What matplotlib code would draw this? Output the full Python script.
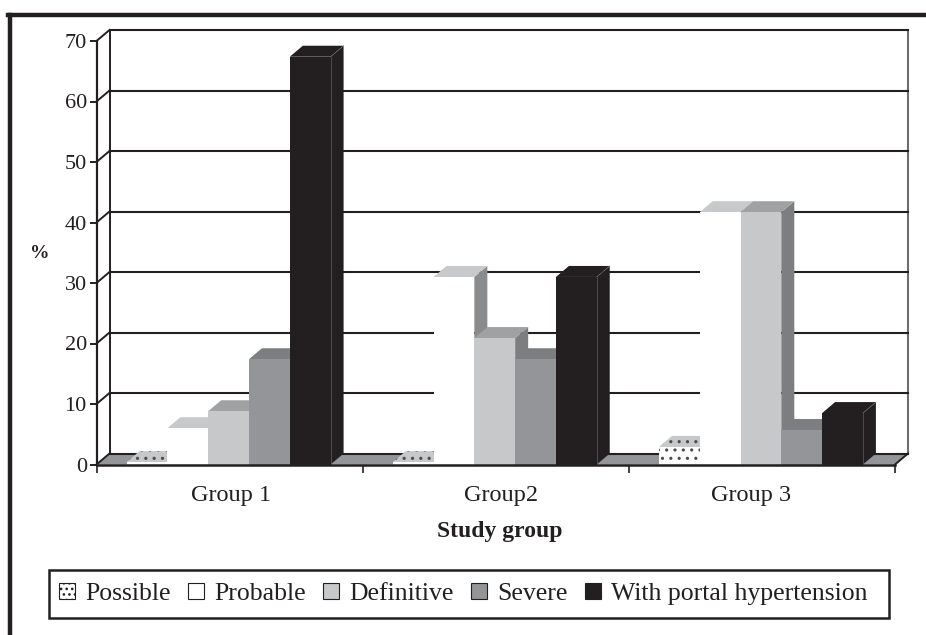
import matplotlib
matplotlib.use('Agg')
import numpy as np
from matplotlib import pyplot as plt
from matplotlib.patches import Patch, Polygon, Rectangle

plt.rcParams['font.family'] = ['Liberation Serif', 'DejaVu Serif']
plt.rcParams['hatch.linewidth'] = 1.1

groups = ['Group 1', 'Group2', 'Group 3']
series = ['Possible', 'Probable', 'Definitive', 'Severe', 'With portal hypertension']
possible = [0.4, 0.4, 2.9]
probable = [6.0, 31.0, 41.7]
definitive = [8.8, 20.9, 41.7]
severe = [17.4, 17.4, 5.7]
portal = [67.4, 31.0, 8.5]
values = [possible, probable, definitive, severe, portal]
yticks = [0, 10, 20, 30, 40, 50, 60, 70]
label_pos = [0.505, 1.52, 2.46]

# front, top, side colours of each series
front_cols = ['white', 'white', '#c7c8ca', '#939598', '#231f20']
top_cols = ['#c7c8ca', '#c8c9cb', '#a0a1a3', '#7d7e80', '#231f20']
side_cols = ['#c7c8ca', '#8a8b8d', '#7d7e80', '#66676a', '#231f20']

W, H = 926, 635
fig = plt.figure(figsize=(W/100, H/100), dpi=100)
L, R, T, B = 96.5, 895, 41, 464.5
ax = fig.add_axes([L/W, 1-B/H, (R-L)/W, (B-T)/H])
ax.set_xlim(0, 3)
ax.set_ylim(0, 70)
ax.patch.set_alpha(0)

# depth of the fake 3d in data units
dx = 13/(R-L)*3
dy = 11/(B-T)*70
bar_w = 40.8/(R-L)*3
nudge = 1.0/(R-L)*3


def poly(pts, color, hatch=None, z=2):
    p = Polygon(pts, closed=True, facecolor=color, edgecolor='none', lw=0, zorder=z, clip_on=False)
    if hatch:
        p.set_hatch(hatch)
        p.set_edgecolor('#4d4d4f')
    ax.add_patch(p)


# floor
poly([(0, 0), (3, 0), (3+dx, dy), (dx, dy)], '#939598', z=1.5)

# back wall and grid
ax.plot([dx, dx], [dy, 70+dy], color='#231f20', lw=1.4, clip_on=False, zorder=1)
ax.plot([3+dx, 3+dx], [dy, 70+dy], color='#6d6e70', lw=1.5, clip_on=False, zorder=1)
ax.plot([3, 3+dx], [0, dy], color='#231f20', lw=1.4, clip_on=False, zorder=1.6)
for v in yticks:
    ax.plot([dx, 3+dx], [v+dy, v+dy], color='#231f20', lw=1.5, clip_on=False, zorder=1.6 if v == 0 else 1)
    ax.plot([0, dx], [v, v+dy], color='#231f20', lw=1.4, clip_on=False, zorder=1.6)

# bars, drawn left to right so the later ones cover the side faces
for g in range(len(groups)):
    x0 = g + 0.5 - 2.5*bar_w - nudge
    for s in range(len(series)):
        x = x0 + s*bar_w
        v = values[s][g]
        hatch = '..' if s == 0 else None
        poly([(x+bar_w, 0), (x+bar_w+dx, dy), (x+bar_w+dx, v+dy), (x+bar_w, v)], side_cols[s], hatch)
        poly([(x, v), (x+bar_w, v), (x+bar_w+dx, v+dy), (x+dx, v+dy)], top_cols[s], hatch)
        poly([(x, 0), (x+bar_w, 0), (x+bar_w, v), (x, v)], front_cols[s], hatch)
        if s == 4:
            # thin light edge on the dark bars
            ax.plot([x+bar_w, x+bar_w], [0, v], color='#6d6e70', lw=0.4, zorder=2.1, clip_on=False)
            ax.plot([x+bar_w, x+bar_w+dx], [v, v+dy], color='#6d6e70', lw=0.4, zorder=2.1, clip_on=False)

ax.spines['top'].set_visible(False)
ax.spines['right'].set_visible(False)
ax.spines['left'].set_linewidth(1.6)
ax.spines['bottom'].set_linewidth(1.8)
ax.spines['left'].set_color('#231f20')
ax.spines['bottom'].set_color('#231f20')
ax.spines['left'].set_zorder(5)
ax.spines['bottom'].set_zorder(5)

ax.set_yticks(yticks)
ax.set_xticks([0, 1, 2, 3])
ax.set_xticklabels([])
ax.set_xticks(label_pos, minor=True)
ax.set_xticklabels(groups, minor=True, fontsize=17.5, color='#231f20')
ax.tick_params(axis='x', which='major', length=6, width=1.2, color='#231f20')
ax.tick_params(axis='x', which='minor', length=0, pad=15)
ax.tick_params(axis='y', length=5, width=1.4, color='#231f20', labelsize=16, labelcolor='#231f20', pad=2)

fig.text(500/W, 1-531/H, 'Study group', fontsize=17, fontweight='bold', color='#231f20', ha='center', va='center')
fig.text(40/W, 1-254/H, '%', fontsize=14, fontweight='bold', color='#231f20', ha='center', va='center')

# outer frame of the figure: only top and left edges are in the crop
fig.add_artist(plt.Line2D([9.5/W, 9.5/W], [0, 1-14.5/H], color='#231f20', lw=3.2, transform=fig.transFigure))
fig.add_artist(plt.Line2D([8/W, 1], [1-14.5/H, 1-14.5/H], color='#231f20', lw=3.2, transform=fig.transFigure))

# legend box is wider than its content, so it is drawn on its own
fig.add_artist(Rectangle((49/W, 1-618/H), 840/W, 48/H, transform=fig.transFigure,
                         facecolor='white', edgecolor='#231f20', lw=1.8))
handles = [Patch(facecolor=c, edgecolor='#231f20', lw=0.8, hatch='...' if i == 0 else None)
           for i, c in enumerate(['white', 'white', '#c7c8ca', '#939598', '#231f20'])]
leg = fig.legend(handles, series, loc='center left', bbox_to_anchor=(49/W, 1-594/H),
                 bbox_transform=fig.transFigure, ncol=5, fontsize=18.5, frameon=False,
                 handlelength=0.62, handleheight=0.62, handletextpad=0.39, columnspacing=0.68,
                 borderpad=0.4, borderaxespad=0, labelcolor='#231f20')
leg.set_zorder(10)

fig.savefig('out.png', dpi=100)
